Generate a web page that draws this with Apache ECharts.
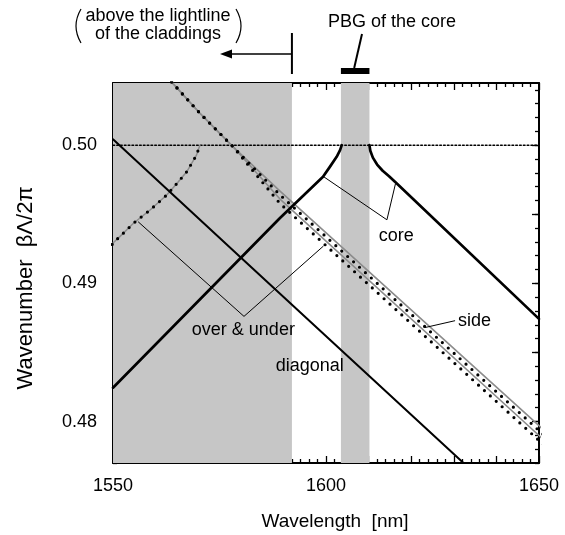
<!DOCTYPE html>
<html><head><meta charset="utf-8">
<script src="https://cdn.jsdelivr.net/npm/echarts@6/dist/echarts.min.js"></script>
<style>html,body{margin:0;padding:0;background:#fff}#c{width:565px;height:535px}</style>
</head><body><div id="c"></div>
<script>
// ---------- data ----------
const xTickLabels = [1550, 1600, 1650];
const yMajorTicks = [0.480, 0.485, 0.490, 0.495, 0.500];
const yTickLabels = [0.48, 0.49, 0.50];
const yMinorTicks = [0.477, 0.478, 0.479, 0.480, 0.481, 0.482, 0.483, 0.484, 0.485, 0.486, 0.487, 0.488, 0.489, 0.490,
  0.491, 0.492, 0.493, 0.494, 0.495, 0.496, 0.497, 0.498, 0.499, 0.500, 0.501, 0.502, 0.503, 0.504];
const shadedBands = [[1550, 1592], [1603.5, 1610.2]];
const lightline = [[1550, 0.500], [1650, 0.500]];
const diagonal = [[1550, 0.50043], [1580.5, 0.49172], [1631.9, 0.47711], [1640, 0.4748]];
const coreLeft = [[1550, 0.48245], [1589.2, 0.49473], [1599.3, 0.49771], [1600.9, 0.49843], [1602.5, 0.49916], [1603.3, 0.49964], [1603.7, 0.50000]];
const coreRight = [[1610.2, 0.50000], [1610.4, 0.49960], [1611.0, 0.49910], [1612.0, 0.49860], [1613.3, 0.49815], [1614.8, 0.49775], [1616.5, 0.49726], [1650, 0.48743]];
const overUnderLeft = [[1548, 0.49180], [1550, 0.49292], [1551.6, 0.49338], [1554.8, 0.49435], [1558.7, 0.49531], [1562.6, 0.49639], [1565.0, 0.49723], [1567.3, 0.49807], [1569.6, 0.49928], [1570.4, 0.50000]];
const sideUpper = [[1562.5, 0.5050], [1570.4, 0.50231], [1578.2, 0.49988], [1589.2, 0.49668], [1650, 0.47970], [1653, 0.4788]];
const overUpper = [[1562.5, 0.5050], [1570.4, 0.50231], [1578.2, 0.49988], [1589.2, 0.49640], [1650, 0.47935], [1653, 0.4785]];
const sideLower = [[1562.5, 0.5050], [1570.4, 0.50231], [1578.2, 0.49988], [1589.2, 0.49610], [1650, 0.47899], [1653, 0.4781]];
const overLower = [[1562.5, 0.5050], [1570.4, 0.50231], [1578.2, 0.49988], [1589.2, 0.49578], [1650, 0.47863], [1653, 0.4778]];

// ---------- chart ----------
const FONT = 'Liberation Sans';
const X_MIN = 1550, X_MAX = 1650, Y_MIN = 0.477, Y_MAX = 0.5045;
const chart = echarts.init(document.getElementById('c'));

function xAxisCfg(pos, showLabel) {
  return {
    type: 'value', min: X_MIN, max: X_MAX, interval: 10, position: pos,
    axisLine: { show: true, onZero: false, lineStyle: { color: '#000', width: 2 } },
    axisTick: { show: true, inside: true, length: 7, lineStyle: { color: '#000', width: 1.3 } },
    minorTick: { show: true, splitNumber: 5, length: 4, lineStyle: { color: '#000', width: 1.3 } },
    splitLine: { show: false }, minorSplitLine: { show: false },
    axisLabel: { show: showLabel, customValues: xTickLabels, margin: 14, color: '#000', fontSize: 18, fontFamily: FONT,
      formatter: v => String(v) }
  };
}
function yAxisCfg(pos, ticks, len, showLabel, showLine) {
  return {
    type: 'value', min: Y_MIN, max: Y_MAX, position: pos,
    axisLine: { show: showLine, onZero: false, lineStyle: { color: '#000', width: 2 } },
    axisTick: { show: true, inside: true, length: len, customValues: ticks, lineStyle: { color: '#000', width: 1.3 } },
    splitLine: { show: false },
    axisLabel: { show: showLabel, customValues: yTickLabels, margin: 16, color: '#000', fontSize: 18, fontFamily: FONT,
      formatter: v => v.toFixed(2) }
  };
}
function line(data, color, width, type, z) {
  return { type: 'line', data: data, xAxisIndex: 0, yAxisIndex: 0, showSymbol: false, symbol: 'none', silent: true,
    clip: true, z: z || 3,
    lineStyle: { color: color, width: width, type: type || 'solid', cap: 'round', join: 'round' } };
}
const DOTS = [0, 8];

chart.setOption({
  animation: false,
  grid: { left: 113, top: 83, width: 426, height: 380 },
  xAxis: [xAxisCfg('bottom', true), xAxisCfg('top', false)],
  yAxis: [
    yAxisCfg('left', yMajorTicks, 7, true, true),
    yAxisCfg('left', yMinorTicks, 4, false, false),
    yAxisCfg('right', yMajorTicks, 7, false, true),
    yAxisCfg('right', yMinorTicks, 4, false, false)
  ],
  series: [
    { type: 'line', data: [], silent: true, z: 1,
      markArea: { silent: true, itemStyle: { color: '#c6c6c6' },
        data: shadedBands.map(b => [{ xAxis: b[0] }, { xAxis: b[1] }]) } },
    line(lightline, '#000', 1.6, [1.6, 2.2], 2),
    line(diagonal, '#000', 2, 'solid', 4),
    line(coreLeft, '#000', 2.7, 'solid', 4),
    line(coreRight, '#000', 2.7, 'solid', 4),
    line(overUnderLeft, '#8c8c8c', 1.5, 'solid', 3),
    line(overUnderLeft, '#000', 3.2, DOTS, 5),
    line(sideUpper, '#8c8c8c', 1.6, 'solid', 3),
    line(sideLower, '#8c8c8c', 1.6, 'solid', 3),
    line(overUpper, '#000', 3.2, DOTS, 5),
    line(overLower, '#000', 3.2, DOTS, 5)
  ]
});

// ---------- annotations ----------
function P(l, v) { return chart.convertToPixel({ gridIndex: 0 }, [l, v]); }
function seg(a, b, w) {
  return { type: 'line', silent: true, z: 20, shape: { x1: a[0], y1: a[1], x2: b[0], y2: b[1] }, style: { stroke: '#000', lineWidth: w || 1 } };
}
function txt(text, x, y, align, size) {
  return { type: 'text', silent: true, z: 20, x: x, y: y,
    style: { text: text, fill: '#000', font: (size || 18) + 'px "' + FONT + '"', align: align || 'center', verticalAlign: 'middle' } };
}
const g = [];
// core
const cV = P(1614.3, 0.4946), cL = P(1599.3, 0.49775), cR = P(1616.3, 0.4972), cT = P(1616.5, 0.4934);
g.push(seg(cL, cV), seg(cV, cR), txt('core', cT[0], cT[1]));
// side
const sA = P(1623.2, 0.4868), sB = P(1630.3, 0.4873);
g.push(seg(sA, sB), txt('side', sB[0] + 3, sB[1], 'left'));
// over & under
const oV = P(1580.75, 0.48761), oL = P(1555.9, 0.49446), oR = P(1599.4, 0.49270), oT = P(1580.6, 0.48665);
g.push(seg(oL, oV), seg(oV, oR), txt('over & under', oT[0], oT[1]));
// diagonal
const dT = P(1596.2, 0.4840);
g.push(txt('diagonal', dT[0], dT[1]));
// axis titles
g.push(txt('Wavelength  [nm]', 335, 522, 'center', 19));
g.push({ type: 'text', silent: true, z: 20, x: 26, y: 288, rotation: Math.PI / 2,
  style: { text: 'Wavenumber  \u03b2\u039b/2\u03c0', fill: '#000', font: '22px "' + FONT + '"', align: 'center', verticalAlign: 'middle' } });
// top annotations
const lcX = P(1592, 0.5)[0];
g.push(seg([lcX, 33], [lcX, 74], 2));
g.push(seg([lcX, 54], [228, 54], 1.6));
g.push({ type: 'polygon', silent: true, z: 20, shape: { points: [[220, 54], [232, 49.5], [232, 58.5]] }, style: { fill: '#000' } });
g.push(txt('above the lightline', 158, 16, 'center', 18));
g.push(txt('of the claddings', 158, 34, 'center', 18));
g.push({ type: 'bezierCurve', silent: true, z: 20, shape: { x1: 81, y1: 9, x2: 81, y2: 43, cpx1: 71, cpy1: 26 }, style: { stroke: '#000', lineWidth: 1.2, fill: null } });
g.push({ type: 'bezierCurve', silent: true, z: 20, shape: { x1: 236, y1: 9, x2: 236, y2: 43, cpx1: 246, cpy1: 26 }, style: { stroke: '#000', lineWidth: 1.2, fill: null } });
const pbL = P(1603.5, 0.5)[0], pbR = P(1610.2, 0.5)[0];
g.push({ type: 'rect', silent: true, z: 20, shape: { x: pbL, y: 68, width: pbR - pbL, height: 6 }, style: { fill: '#000' } });
g.push(seg([(pbL + pbR) / 2 - 1, 68], [362, 34], 2));
g.push(txt('PBG of the core', 392, 22, 'center', 18));
chart.setOption({ graphic: g });
</script>
</body></html>
